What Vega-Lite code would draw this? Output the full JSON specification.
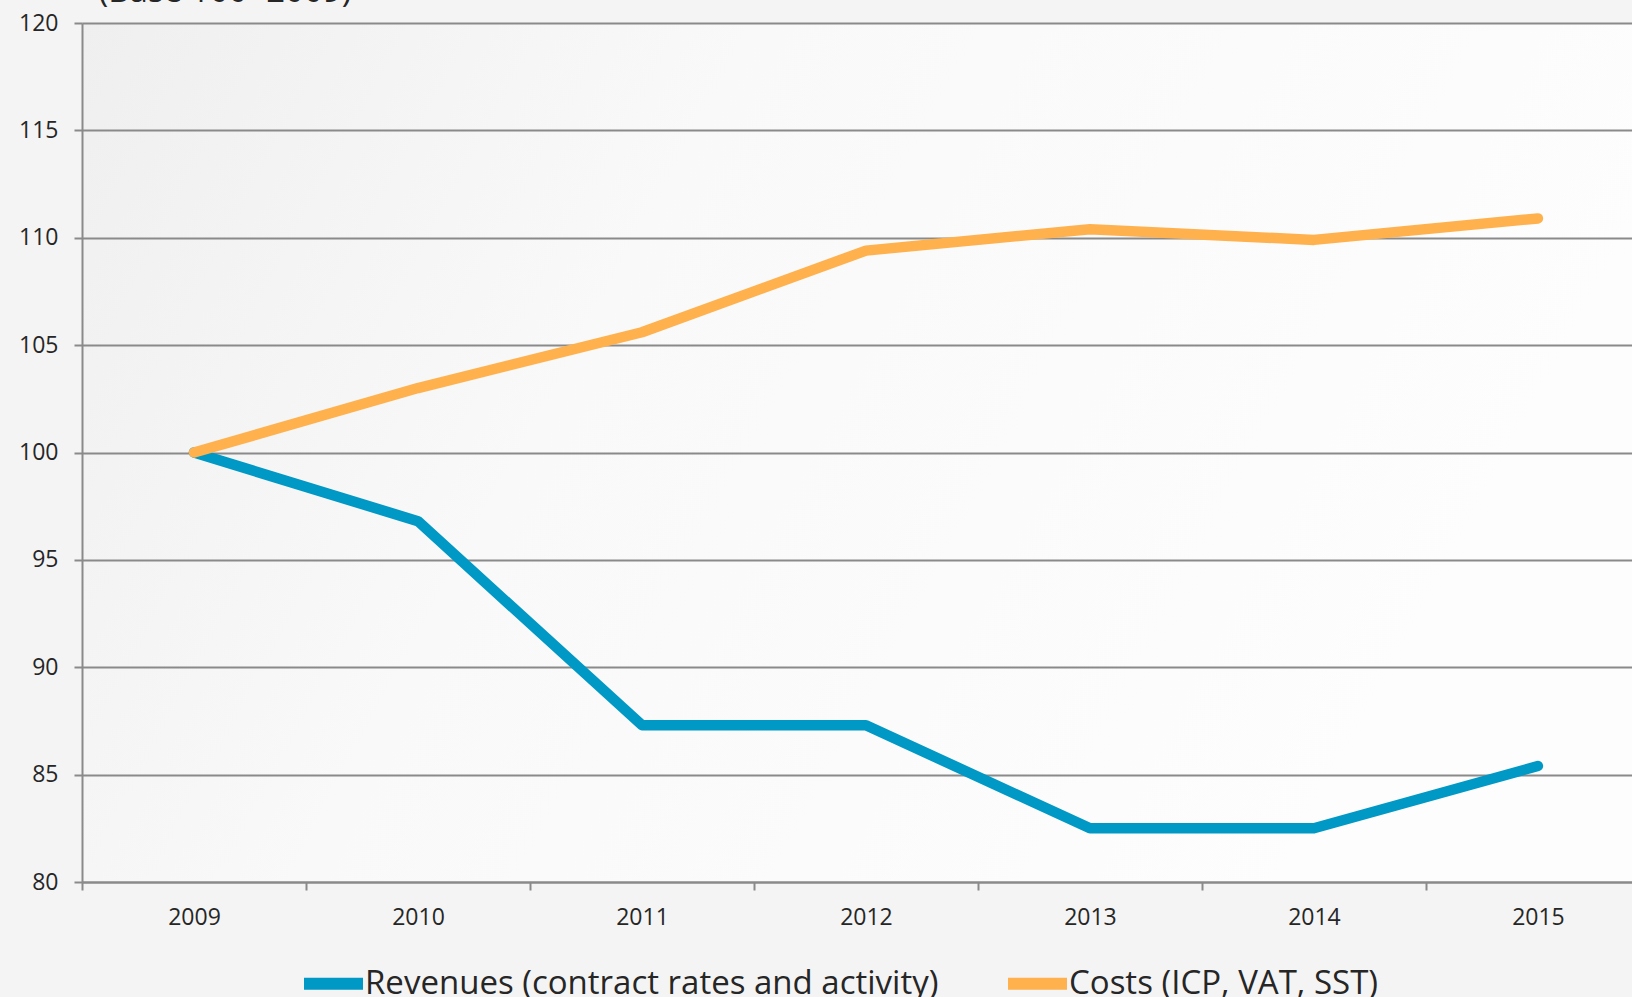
{
  "$schema": "https://vega.github.io/schema/vega-lite/v6.json",
  "autosize": "none",
  "width": 1550,
  "height": 859,
  "padding": {"left": 82, "top": 23, "right": 0, "bottom": 115},
  "background": "#f4f4f4",
  "title": {
    "text": "(Base 100=2009)",
    "anchor": "start",
    "baseline": "alphabetic",
    "offset": -3,
    "dy": 20,
    "dx": 80,
    "font": "Open Sans",
    "fontSize": 33,
    "fontWeight": "normal",
    "color": "#262626"
  },
  "config": {
    "view": {
      "stroke": null,
      "fill": {
        "gradient": "linear",
        "x1": 0, "y1": 0, "x2": 1, "y2": 0.3,
        "stops": [
          {"offset": 0, "color": "#efefef"},
          {"offset": 0.4, "color": "#f9f9f9"},
          {"offset": 1, "color": "#fdfdfd"}
        ]
      }
    },
    "font": "Open Sans"
  },
  "data": {
    "values": [
      {"year": 2009, "series": "Revenues (contract rates and activity)", "value": 100},
      {"year": 2010, "series": "Revenues (contract rates and activity)", "value": 96.8},
      {"year": 2011, "series": "Revenues (contract rates and activity)", "value": 87.3},
      {"year": 2012, "series": "Revenues (contract rates and activity)", "value": 87.3},
      {"year": 2013, "series": "Revenues (contract rates and activity)", "value": 82.5},
      {"year": 2014, "series": "Revenues (contract rates and activity)", "value": 82.5},
      {"year": 2015, "series": "Revenues (contract rates and activity)", "value": 85.4},
      {"year": 2009, "series": "Costs (ICP, VAT, SST)", "value": 100},
      {"year": 2010, "series": "Costs (ICP, VAT, SST)", "value": 103.0},
      {"year": 2011, "series": "Costs (ICP, VAT, SST)", "value": 105.6},
      {"year": 2012, "series": "Costs (ICP, VAT, SST)", "value": 109.4},
      {"year": 2013, "series": "Costs (ICP, VAT, SST)", "value": 110.4},
      {"year": 2014, "series": "Costs (ICP, VAT, SST)", "value": 109.9},
      {"year": 2015, "series": "Costs (ICP, VAT, SST)", "value": 110.9}
    ]
  },
  "mark": {"type": "line", "strokeWidth": 10.5, "strokeCap": "round", "strokeJoin": "round"},
  "encoding": {
    "x": {
      "field": "year", "type": "quantitative",
      "scale": {"domain": [2008.5, 2015.42], "nice": false, "zero": false},
      "axis": {
        "values": [2008.5, 2009.5, 2010.5, 2011.5, 2012.5, 2013.5, 2014.5],
        "labelExpr": "format(datum.value + 0.5, 'd')",
        "labelOffset": 112,
        "labelOverlap": false, "labelBound": false, "labelFlush": false,
        "grid": false, "title": null,
        "domain": true, "domainColor": "#8a8a8a", "domainWidth": 2,
        "ticks": true, "tickColor": "#8a8a8a", "tickWidth": 2, "tickSize": 8,
        "labelFont": "Open Sans", "labelFontSize": 23, "labelColor": "#262626",
        "labelPadding": 16
      }
    },
    "y": {
      "field": "value", "type": "quantitative",
      "scale": {"domain": [80, 120], "nice": false, "zero": false},
      "axis": {
        "values": [80, 85, 90, 95, 100, 105, 110, 115, 120],
        "title": null,
        "grid": true, "gridColor": "#8a8a8a", "gridWidth": 2,
        "domain": true, "domainColor": "#8a8a8a", "domainWidth": 2,
        "ticks": true, "tickColor": "#8a8a8a", "tickWidth": 2, "tickSize": 8,
        "labelFont": "Open Sans", "labelFontSize": 23, "labelColor": "#262626",
        "labelPadding": 16
      }
    },
    "color": {
      "field": "series", "type": "nominal",
      "scale": {
        "domain": ["Revenues (contract rates and activity)", "Costs (ICP, VAT, SST)"],
        "range": ["#0098c5", "#ffb14e"]
      },
      "legend": {
        "title": null,
        "orient": "none",
        "direction": "horizontal",
        "legendX": 216,
        "legendY": 925,
        "symbolType": "stroke",
        "symbolSize": 3481,
        "symbolStrokeWidth": 12,
        "labelFont": "Open Sans",
        "labelFontSize": 33,
        "labelColor": "#262626",
        "labelLimit": 900,
        "labelOffset": -4,
        "columnPadding": 45
      }
    }
  }
}
